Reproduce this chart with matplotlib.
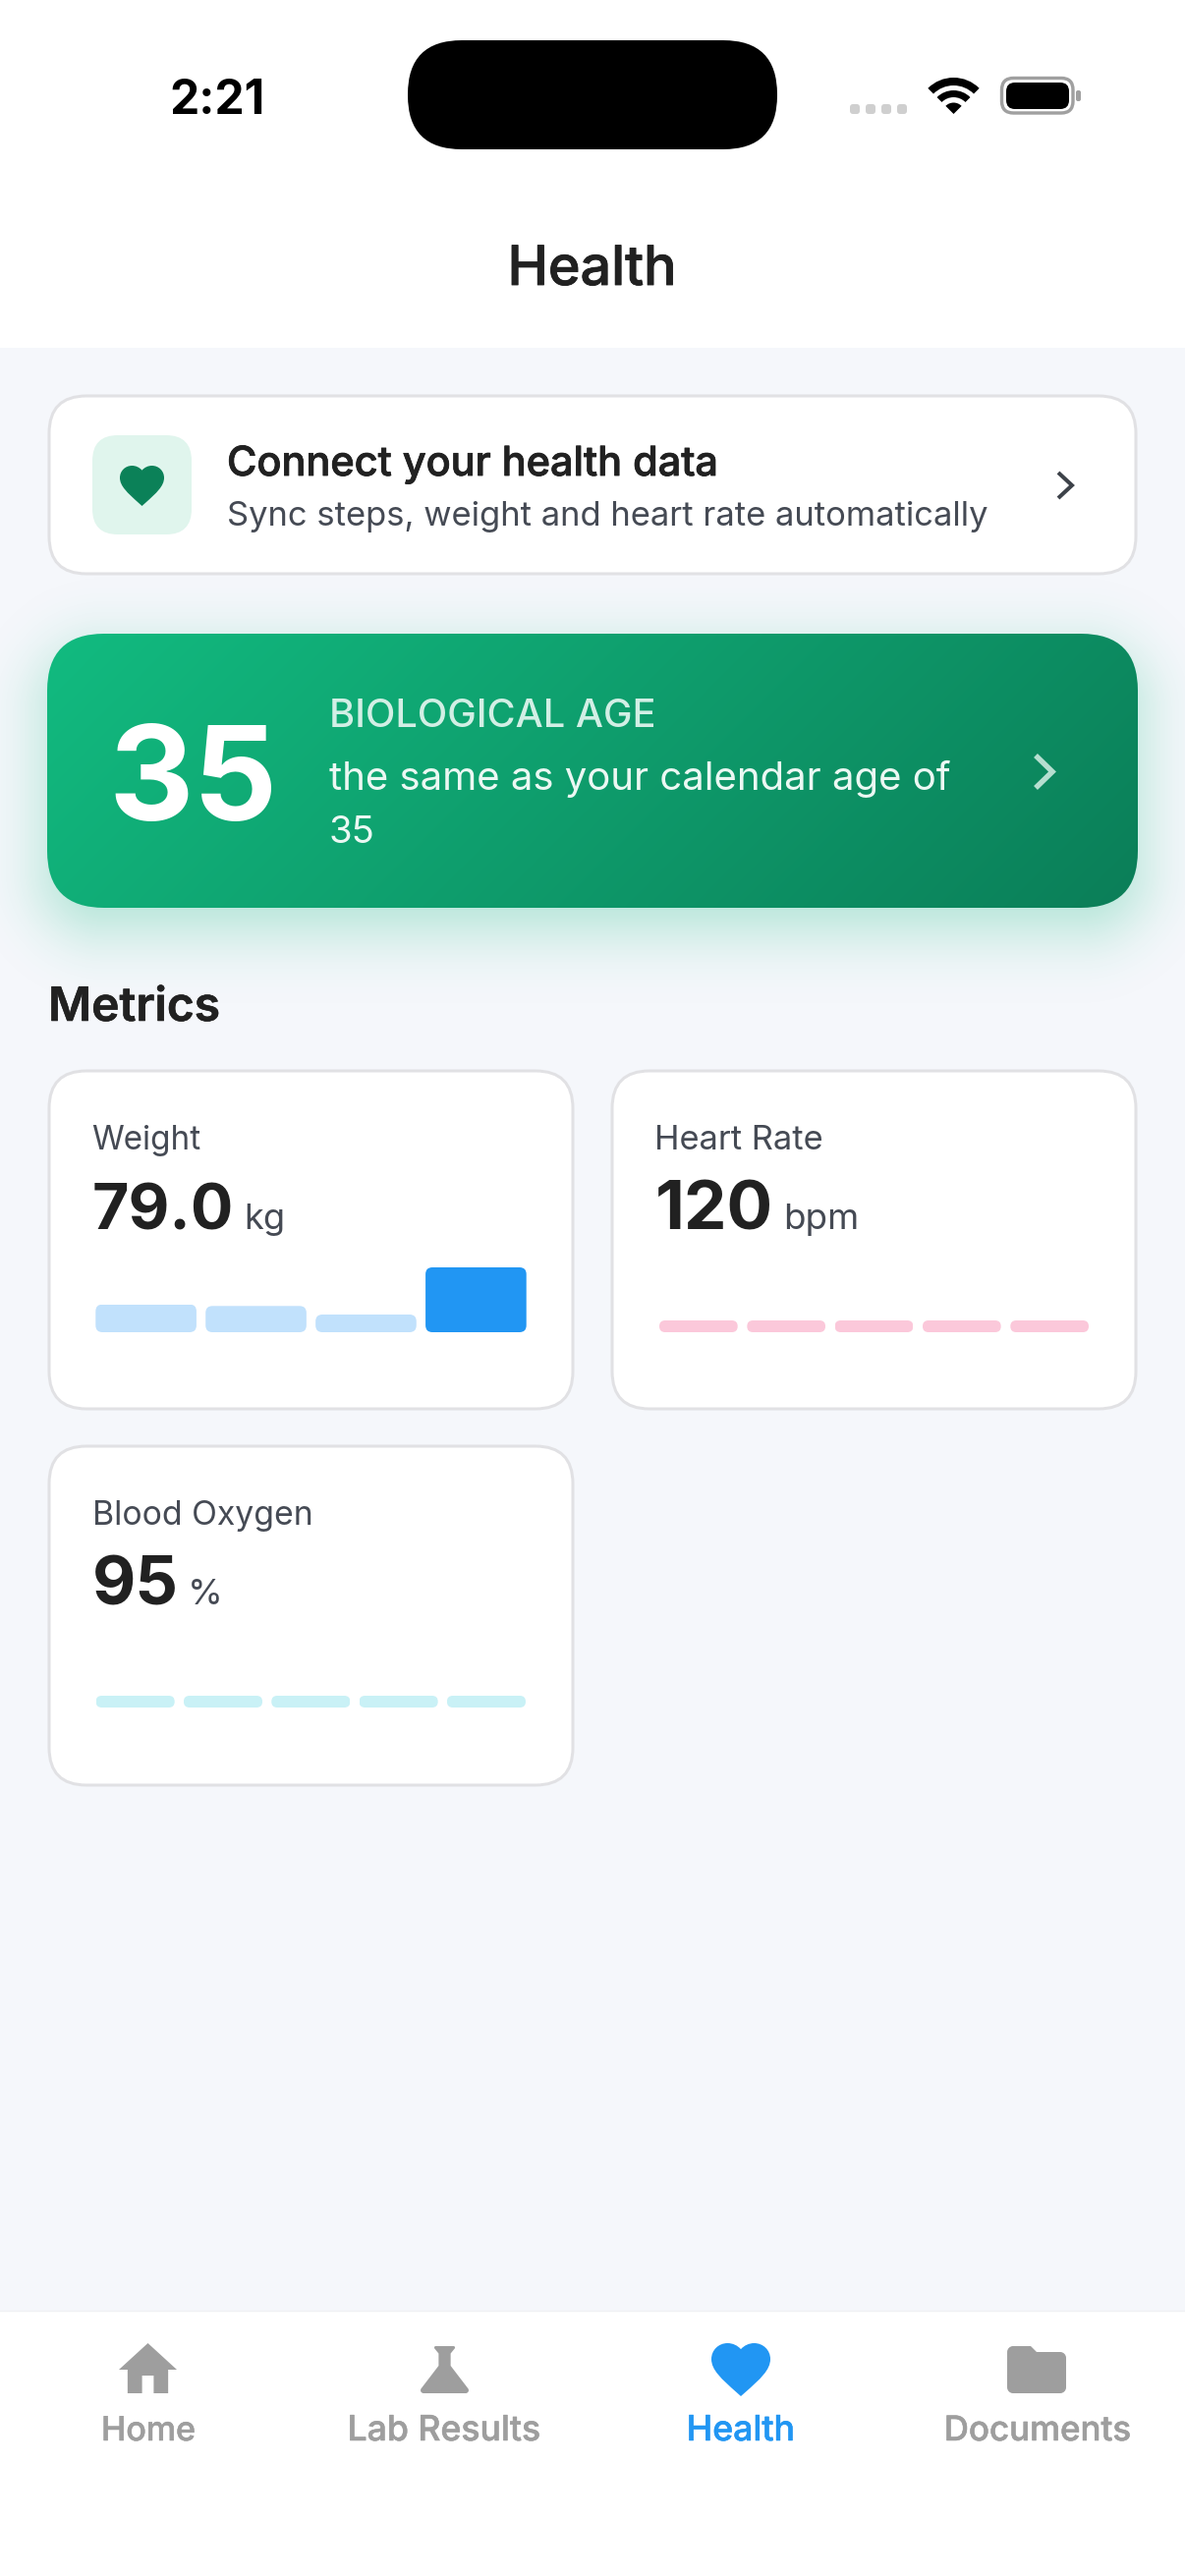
import numpy as np
import matplotlib
matplotlib.use("Agg")
import matplotlib.pyplot as plt
from matplotlib.patches import FancyBboxPatch, PathPatch, Wedge, Rectangle
from matplotlib.path import Path
from matplotlib.colors import to_rgb
import matplotlib.patheffects as pe
from math import erf

# ---- data ----
status_time = "2:21"
page_title = "Health"
connect_title = "Connect your health data"
connect_subtitle = "Sync steps, weight and heart rate automatically"
bio_age = "35"
bio_label = "BIOLOGICAL AGE"
bio_line1 = "the same as your calendar age of"
bio_line2 = "35"
section_title = "Metrics"
metric_names = ["Weight", "Heart Rate", "Blood Oxygen"]
metric_values = ["79.0", "120", "95"]
metric_units = ["kg", "bpm", "%"]
weight_bars = [28.3, 26.7, 18.0, 66.0]
heart_bars = [12, 12, 12, 12, 12]
oxygen_bars = [12, 12, 12, 12, 12]
nav_labels = ["Home", "Lab Results", "Health", "Documents"]

W, H = 1206, 2622
plt.rcParams["font.family"] = ["Inter", "DejaVu Sans"]
fig = plt.figure(figsize=(W / 100, H / 100), dpi=100, facecolor="#f5f7fb")
ax = fig.add_axes([0, 0, 1, 1])
ax.axis("off")
renderer = fig.canvas.get_renderer()

INK = "#212121"
GREY = "#454a54"


def txt(x, y, s, px, width=None, color=INK, weight="normal", ha="left", bold=0.0, alpha=None, z=10):
    t = ax.text(x, y, s, fontsize=px * 0.72, color=color, weight=weight, ha=ha, va="baseline", zorder=z, alpha=alpha)
    if width is not None:
        w = t.get_window_extent(renderer).width
        t.set_fontsize(t.get_fontsize() * width / w)
    if bold:
        t.set_path_effects([pe.withStroke(linewidth=bold, foreground=color, alpha=alpha if alpha else 1)])
    return t


def rrect(x0, y0, x1, y1, r, fc, ec="none", lw=0, z=2):
    p = FancyBboxPatch((x0, y0), x1 - x0, y1 - y0, boxstyle=f"round,pad=0,rounding_size={r}",
                       fc=fc, ec=ec, lw=lw * 0.72, zorder=z)
    ax.add_patch(p)
    return p


def svg(d_cmds, bbox, target, color, z=6):
    """Build a path from (code, points) commands in icon units, fit bbox on target."""
    verts, codes = [], []
    for code, pts in d_cmds:
        for i, pt in enumerate(pts):
            verts.append(pt)
            codes.append(code)
    bx0, by0, bx1, by1 = bbox
    tx0, ty0, tx1, ty1 = target
    sx, sy = (tx1 - tx0) / (bx1 - bx0), (ty1 - ty0) / (by1 - by0)
    v = [((a - bx0) * sx + tx0, (b - by0) * sy + ty0) for a, b in verts]
    ax.add_patch(PathPatch(Path(v, codes), fc=color, ec="none", zorder=z))


M, L, C3, CP = Path.MOVETO, Path.LINETO, Path.CURVE4, Path.CLOSEPOLY


def heart(target, color):
    cmds = [
        (M, [(12, 21.35)]), (L, [(10.55, 20.03)]),
        (C3, [(5.4, 15.36), (2, 12.28), (2, 8.5)]),
        (C3, [(2, 5.42), (4.42, 3), (7.5, 3)]),
        (C3, [(9.24, 3), (10.91, 3.81), (12, 5.09)]),
        (C3, [(13.09, 3.81), (14.76, 3), (16.5, 3)]),
        (C3, [(19.58, 3), (22, 5.42), (22, 8.5)]),
        (C3, [(22, 12.28), (18.6, 15.38), (13.45, 20.04)]),
        (L, [(12, 21.35)]), (CP, [(12, 21.35)]),
    ]
    svg(cmds, (2, 3, 22, 21.35), target, color)


def home(target, color):
    p = [(10, 20), (10, 14), (14, 14), (14, 20), (19, 20), (19, 12), (22, 12), (12, 3), (2, 12), (5, 12), (5, 20), (10, 20)]
    cmds = [(M, [p[0]])] + [(L, [q]) for q in p[1:]] + [(CP, [p[0]])]
    svg(cmds, (2, 3, 22, 20), target, color)


def flask(target, color):
    cmds = [
        (M, [(19.8, 18.4)]), (L, [(14, 10.67)]), (L, [(14, 6.5)]), (L, [(15.35, 4.81)]),
        (C3, [(15.61, 4.48), (15.38, 4), (14.96, 4)]), (L, [(9.04, 4)]),
        (C3, [(8.62, 4), (8.39, 4.48), (8.65, 4.81)]), (L, [(10, 6.5)]), (L, [(10, 10.67)]),
        (L, [(4.2, 18.4)]), (C3, [(3.71, 19.06), (4.18, 20), (5, 20)]), (L, [(19, 20)]),
        (C3, [(19.82, 20), (20.29, 19.06), (19.8, 18.4)]), (CP, [(19.8, 18.4)]),
    ]
    svg(cmds, (4, 4, 20, 20), target, color)


def folder(target, color):
    cmds = [
        (M, [(10, 4)]), (L, [(4, 4)]), (C3, [(2.9, 4), (2.01, 4.9), (2.01, 6)]), (L, [(2, 18)]),
        (C3, [(2, 19.1), (2.9, 20), (4, 20)]), (L, [(20, 20)]), (C3, [(21.1, 20), (22, 19.1), (22, 18)]),
        (L, [(22, 8)]), (C3, [(22, 6.9), (21.1, 6), (20, 6)]), (L, [(12, 6)]), (L, [(10, 4)]), (CP, [(10, 4)]),
    ]
    svg(cmds, (2, 4, 22, 20), target, color)


def chevron(x0, y0, x1, y1, color, lw=4.5):
    ax.plot([x0, x1, x0], [y0, (y0 + y1) / 2, y1], color=color, lw=lw * 0.72,
            solid_capstyle="butt", solid_joinstyle="miter", zorder=8)


def sparkline(x0, x1, ybase, values, gap, color, radius, colors=None):
    top = max(values)
    sub = fig.add_axes([x0 / W, 1 - ybase / H, (x1 - x0) / W, top / H])
    sub.set_xlim(0, x1 - x0)
    sub.set_ylim(0, top)
    sub.axis("off")
    n = len(values)
    bw = (x1 - x0 - gap * (n - 1)) / n
    lefts = [i * (bw + gap) for i in range(n)]
    bars = sub.bar(lefts, values, width=bw, align="edge", color=colors if colors else color)
    for b, left, v in zip(bars, lefts, values):
        clip = FancyBboxPatch((left, 0), bw, v, boxstyle=f"round,pad=0,rounding_size={radius}",
                              transform=sub.transData)
        b.set_clip_path(clip)


# ---- page background blocks ----
ax.add_patch(Rectangle((0, 0), W, 354, fc="white", ec="none", zorder=1))
ax.add_patch(Rectangle((0, 2352), W, 270, fc="white", ec="none", zorder=1))

# status bar
rrect(415, 41, 791, 152, 55, "black", z=3)
txt(221, 116, status_time, 50, width=97, color="black", weight="bold", ha="center")
for cx in [870, 886, 902, 918]:
    rrect(cx - 5, 106, cx + 5, 116, 3, "#cfcfcf", z=3)
for rout, wid in [(37, 8), (24, 7)]:
    ax.add_patch(Wedge((970.5, 116), rout, 225, 315, width=wid, fc="black", ec="none", zorder=3))
ax.add_patch(Wedge((970.5, 116), 11.5, 225, 315, fc="black", ec="none", zorder=3))
rrect(1019.5, 79.5, 1092, 115, 12, "white", ec="#a0a0a0", lw=3.4, z=3)
rrect(1024, 84, 1088, 111, 9, "black", z=4)
rrect(1095, 92, 1100, 103, 2, "#a0a0a0", z=3)

# title
txt(602.5, 290, page_title, 52, width=172, ha="center", weight="medium", bold=0.6)

# connect card
rrect(50, 403, 1156, 584, 38, "white", ec="#e1e1e4", lw=3)
rrect(94, 443, 195, 544, 26, "#e0f5ed", z=3)
heart((122, 474, 167, 515), "#0b8158")
txt(231, 484, connect_title, 38, width=500, weight="medium", bold=0.6)
txt(231, 535, connect_subtitle, 33, width=773, color=GREY)
chevron(1077, 481, 1091, 507, "#3d4249", lw=4)

# biological age card: shadow then gradient
x0, y0, x1, y1, r = 48, 645, 1158, 924, 58
sx0, sx1, sy0, sy1 = 0, W, 520, 1110
yy, xx = np.mgrid[sy0:sy1, sx0:sx1] + 0.5
off = 20
cx, cy = (x0 + x1) / 2, (y0 + y1) / 2 + off
qx = np.abs(xx - cx) - ((x1 - x0) / 2 - r)
qy = np.abs(yy - cy) - ((y1 - y0) / 2 - r)
sd = np.hypot(np.maximum(qx, 0), np.maximum(qy, 0)) + np.minimum(np.maximum(qx, qy), 0) - r
sigma = 34.0
erf_v = np.vectorize(erf)
alpha = 0.33 * 0.5 * (1 - erf_v(sd / (sigma * np.sqrt(2))))
shadow = np.zeros(xx.shape + (4,))
shadow[..., :3] = to_rgb("#12ba80")
shadow[..., 3] = alpha
ax.imshow(shadow, extent=(sx0, sx1, sy1, sy0), aspect="auto", zorder=1.5, interpolation="nearest")

yy, xx = np.mgrid[y0:y1, x0:x1] + 0.5
cw, ch = x1 - x0, y1 - y0
L_ = (cw + ch) * np.sqrt(0.5)
tt = ((xx - (x0 + x1) / 2) + (yy - (y0 + y1) / 2)) * np.sqrt(0.5) / L_ + 0.5
c_a, c_b = np.array(to_rgb("#12bb80")), np.array(to_rgb("#0b7e58"))
grad = c_a[None, None, :] * (1 - tt[..., None]) + c_b[None, None, :] * tt[..., None]
im = ax.imshow(grad, extent=(x0, x1, y1, y0), aspect="auto", zorder=3, interpolation="bilinear")
im.set_clip_path(FancyBboxPatch((x0, y0), cw, ch, boxstyle=f"round,pad=0,rounding_size={r}", transform=ax.transData))

txt(110, 835, bio_age, 134, color="white", weight="bold")
txt(335, 740, bio_label, 36, width=332, color="#d2efe5", weight="medium")
txt(335, 804, bio_line1, 38, width=632, color="#ebf8f3")
txt(335, 858, bio_line2, 38, width=47, color="#ebf8f3")
chevron(1054, 769, 1071, 802, "#b6dfd0", lw=5.5)

# metrics
txt(49, 1039, section_title, 44, width=175, weight="semibold", bold=0.4)

cards = [(50, 1090, 583, 1434), (623, 1090, 1156, 1434), (50, 1472, 583, 1817)]
name_w = [111, 171, 224]
val_w = [144, 120, 88]
unit_x = [248, 797, 191]
unit_w = [42, 77, 36]
for i, (a, b, c, d) in enumerate(cards):
    rrect(a, b, c, d, 38, "white", ec="#e1e1e4", lw=3)
    tx = a + 43.5
    txt(tx, b + 80, metric_names[i], 33, width=name_w[i], color=GREY)
    txt(tx, b + 161, metric_values[i], 66, width=val_w[i], weight="bold")
    txt(unit_x[i], b + 161, metric_units[i], 33, width=unit_w[i], color=GREY)

sparkline(97.3, 535.7, 1356, weight_bars, 9.3, "#c1e1fc", 7, colors=["#c1e1fc", "#c1e1fc", "#c1e1fc", "#2196f3"])
sparkline(671, 1108, 1356, heart_bars, 9.6, "#fbc8da", 6)
sparkline(97.6, 535, 1738, oxygen_bars, 9.2, "#c9f1f6", 6)

# bottom nav
ax.plot([0, W], [2352, 2352], color="#f0f1f4", lw=1, zorder=2)
NAV = "#9e9e9e"
BLUE = "#2196f3"
home((121, 2385, 180, 2436), NAV)
flask((428, 2388, 477, 2436), NAV)
heart((724, 2385, 784, 2439), BLUE)
folder((1025, 2388, 1085, 2436), NAV)
nav_x = [151, 452, 754, 1056]
nav_w = [96, 196, 110, 190]
for i, s in enumerate(nav_labels):
    txt(nav_x[i], 2484, s, 32, width=nav_w[i], color=BLUE if i == 2 else NAV, weight="medium", ha="center", bold=0.4)

ax.set_xlim(0, W)
ax.set_ylim(H, 0)
fig.savefig("out.png", dpi=100, facecolor=fig.get_facecolor())
